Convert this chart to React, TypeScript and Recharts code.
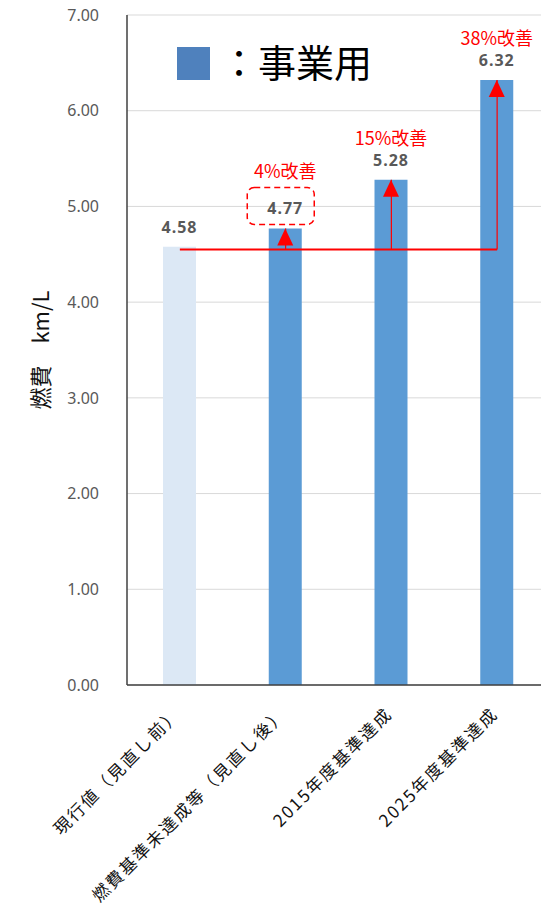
import React from 'react';
import {
  BarChart,
  Bar,
  Cell,
  XAxis,
  YAxis,
  CartesianGrid,
  LabelList,
  ReferenceLine
} from 'recharts';

// categories and values
const categories = ['現行値（見直し前）', '燃費基準未達成等（見直し後）', '2015年度基準達成', '2025年度基準達成'];
const fuelEconomy = [4.58, 4.77, 5.28, 6.32];
const improvements = ['', '4%改善', '15%改善', '38%改善'];
const boxed = [false, true, false, false];
const yTicks = [0, 1, 2, 3, 4, 5, 6, 7];
const baseLevel = 4.55;

const barColors = ['#dce8f5', '#5b9bd5', '#5b9bd5', '#5b9bd5'];
const RED = '#ff0000';
const NUM_FONT = '"Noto Sans", "Open Sans", sans-serif';
const JP_FONT = '"Noto Sans CJK JP", sans-serif';

const data = categories.map((name, i) => ({
  name,
  value: fuelEconomy[i],
  improvement: improvements[i],
  boxed: boxed[i]
}));

const XTick = ({ x, y, payload }: any) => (
  <text
    x={x + 2}
    y={y + 30}
    textAnchor="end"
    transform={`rotate(-45, ${x + 2}, ${y + 30})`}
    fontSize={17}
    letterSpacing={2}
    fontFamily={JP_FONT}
    fill="#111"
  >
    {payload.value}
  </text>
);

const BarAnnotation = (props: any) => {
  const { x, y, width, index } = props;
  const d = data[index];
  const cx = x + width / 2;
  return (
    <g>
      <text
        x={cx}
        y={y - 14}
        textAnchor="middle"
        fontSize={16}
        fontWeight="bold"
        letterSpacing={1}
        fontFamily={NUM_FONT}
        fill="#595959"
      >
        {d.value.toFixed(2)}
      </text>
      {d.boxed && (
        <rect
          x={cx - 38}
          y={y - 41}
          width={67}
          height={37}
          rx={7}
          fill="none"
          stroke={RED}
          strokeWidth={1.5}
          strokeDasharray="6 4"
        />
      )}
      {d.improvement && (
        <text
          x={cx}
          y={y - (d.boxed ? 50 : 35)}
          textAnchor="middle"
          fontSize={18}
          fontFamily={JP_FONT}
          fill={RED}
        >
          {d.improvement}
        </text>
      )}
      {d.improvement && (
        <polygon points={`${cx},${y} ${cx - 8},${y + 17} ${cx + 8},${y + 17}`} fill={RED} />
      )}
    </g>
  );
};

const YLabel = ({ viewBox }: any) => {
  const cx = 39;
  const cy = viewBox.y + viewBox.height / 2;
  return (
    <text
      x={cx}
      y={cy}
      textAnchor="middle"
      dominantBaseline="central"
      transform={`rotate(-90, ${cx}, ${cy})`}
      fontSize={22}
      fontFamily={JP_FONT}
      fill="#111"
    >
      燃費　km/L
    </text>
  );
};

const App = () => {
  return (
    <div style={{ position: 'absolute', left: 0, top: 0, width: 551, height: 916, background: '#fff' }}>
      <BarChart
        width={551}
        height={916}
        data={data}
        margin={{ top: 15, right: 10, bottom: 0, left: 0 }}
      >
        <CartesianGrid vertical={false} stroke="#d9d9d9" />
        <XAxis
          dataKey="name"
          interval={0}
          height={231}
          tick={<XTick />}
          tickLine={false}
          tickSize={0}
          tickMargin={0}
          padding={{ left: 0, right: -9 }}
          axisLine={{ stroke: '#404040', strokeWidth: 1.5 }}
        />
        <YAxis
          width={127}
          domain={[0, 7]}
          ticks={yTicks}
          interval={0}
          tickFormatter={(v: number) => v.toFixed(2)}
          tick={{ fontSize: 16, fill: '#595959', fontFamily: NUM_FONT }}
          tickLine={false}
          tickSize={0}
          tickMargin={28}
          axisLine={{ stroke: '#404040', strokeWidth: 1.5 }}
          label={{ content: YLabel }}
        />
        <Bar dataKey="value" barSize={33} isAnimationActive={false}>
          {data.map((d, i) => (
            <Cell key={d.name} fill={barColors[i]} />
          ))}
          <LabelList dataKey="value" content={<BarAnnotation />} />
        </Bar>
        <ReferenceLine
          segment={[{ x: categories[0], y: baseLevel }, { x: categories[3], y: baseLevel }]}
          stroke={RED}
          strokeWidth={2}
        />
        {categories.slice(1).map((c, i) => (
          <ReferenceLine
            key={c}
            segment={[{ x: c, y: baseLevel }, { x: c, y: fuelEconomy[i + 1] }]}
            stroke={RED}
            strokeWidth={1.2}
          />
        ))}
        <rect x={177} y={47} width={33} height={33} fill="#4f81bd" />
        <text x={220} y={77} fontSize={38} fontFamily={JP_FONT} fill="#000">
          ：事業用
        </text>
      </BarChart>
    </div>
  );
};

export default App;
